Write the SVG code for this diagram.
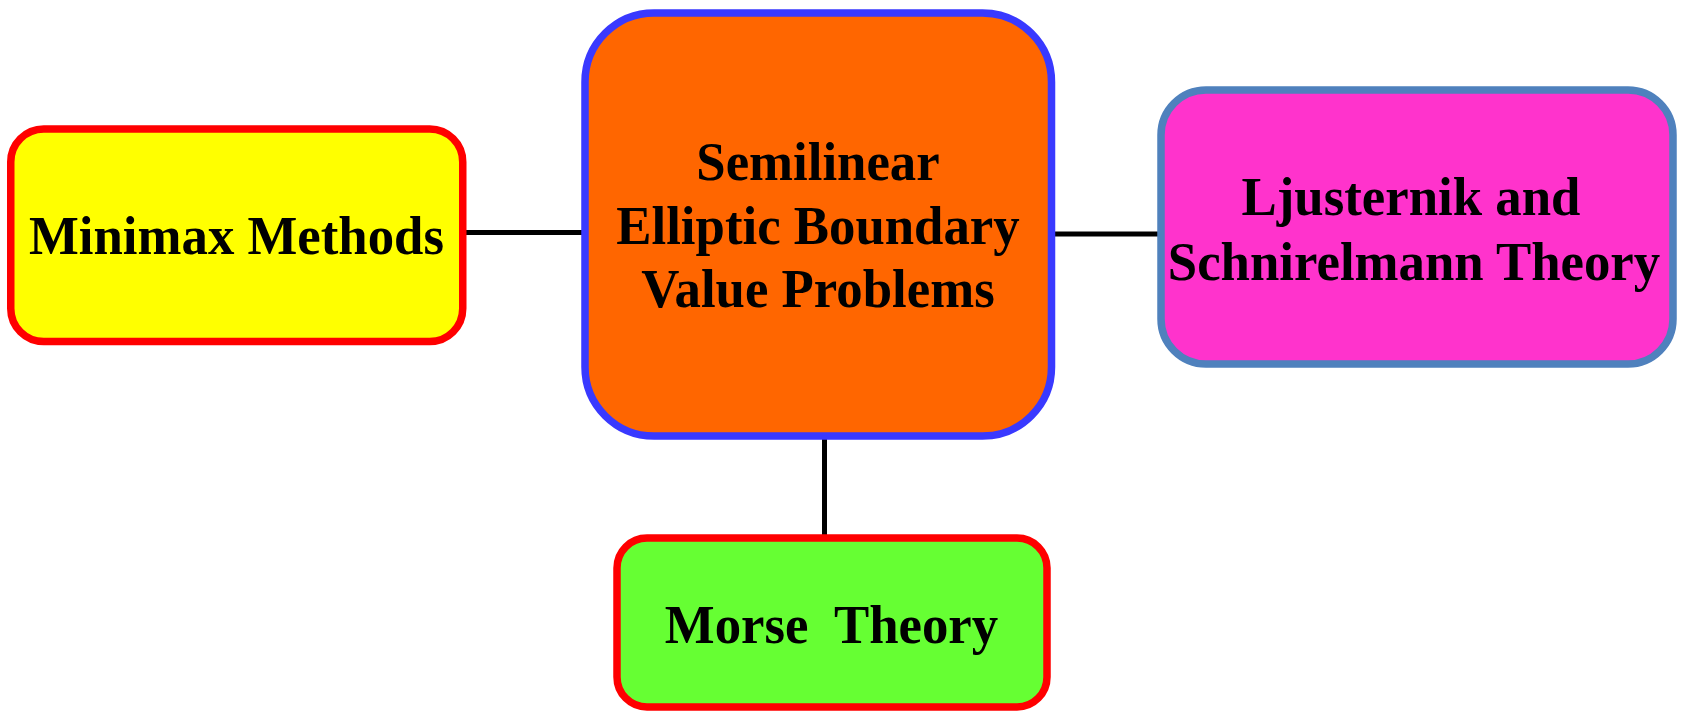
<svg xmlns="http://www.w3.org/2000/svg" width="1681" height="714" viewBox="0 0 1681 714">
<style>
.box{stroke-width:7.5}
.lbl{font-family:"Liberation Serif","Times New Roman",serif;font-weight:bold;font-size:55px;fill:#000;text-anchor:middle;white-space:pre}
.conn{stroke:#000;stroke-width:5;fill:none}
</style>
<rect width="1681" height="714" fill="#fff"/>
<g id="connectors">
<line class="conn" x1="464" y1="232.5" x2="586" y2="232.5"/>
<line class="conn" x1="1054" y1="234" x2="1159" y2="234"/>
<line class="conn" x1="824.5" y1="438" x2="824.5" y2="537"/>
</g>
<g id="minimax">
<rect class="box" x="10.75" y="129" width="452" height="212.5" rx="33" fill="#FFFF00" stroke="#FF0000"/>
<text class="lbl" transform="translate(236.5 254) scale(0.96 1)">Minimax Methods</text>
</g>
<g id="central">
<rect class="box" x="585" y="13" width="466.5" height="423" rx="69" fill="#FF6600" stroke="#3939FF"/>
<text class="lbl" transform="translate(818 180) scale(0.96 1)">Semilinear</text>
<text class="lbl" transform="translate(818 244) scale(0.96 1)">Elliptic Boundary</text>
<text class="lbl" transform="translate(818 307) scale(0.96 1)">Value Problems</text>
</g>
<g id="ljusternik">
<rect class="box" x="1161" y="90" width="512" height="274" rx="45" fill="#FF33CC" stroke="#4F81BD"/>
<text class="lbl" transform="translate(1411 215) scale(0.96 1)">Ljusternik and</text>
<text class="lbl" transform="translate(1414 280) scale(0.96 1)">Schnirelmann Theory</text>
</g>
<g id="morse">
<rect class="box" x="617" y="538" width="430" height="169" rx="30" fill="#66FF33" stroke="#FF0000"/>
<text class="lbl" transform="translate(831.5 643) scale(0.96 1)">Morse  Theory</text>
</g>
</svg>
